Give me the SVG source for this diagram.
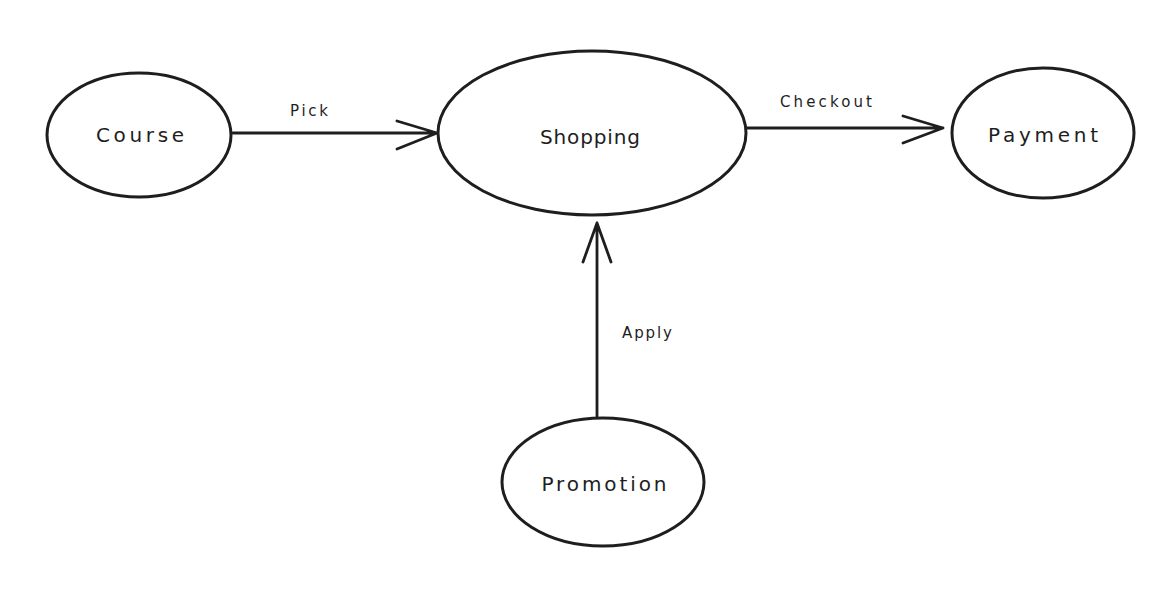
<svg xmlns="http://www.w3.org/2000/svg" width="1175" height="606" viewBox="0 0 1175 606">
<style>
.node{fill:#fff;stroke:#1e1e1e;stroke-width:3}
.lbl{font-family:"DejaVu Sans","Liberation Sans",sans-serif;font-size:20px;fill:#1e1e1e;text-anchor:middle;dominant-baseline:central}
.elbl{font-family:"DejaVu Sans","Liberation Sans",sans-serif;font-size:15px;fill:#1e1e1e;text-anchor:middle;dominant-baseline:central}
.edge{fill:none;stroke:#1e1e1e;stroke-width:2.8;stroke-linecap:round;stroke-linejoin:round}
</style>
<rect width="1175" height="606" fill="#fff"/>
<g id="connectors">
<g id="e-pick"><path class="edge" d="M233 133 L437 133 M397 121 L437 133 L397 149"/><text class="elbl" x="309" y="111" textLength="38">Pick</text></g>
<g id="e-checkout"><path class="edge" d="M747 128 L943 128 M903 116 L943 128 L903 143"/><text class="elbl" x="826" y="102" textLength="92">Checkout</text></g>
<g id="e-apply"><path class="edge" d="M597 417 L597 223 M583 262 L597 223 L611 262"/><text class="elbl" x="647" y="333" textLength="50">Apply</text></g>
</g>
<g id="course"><ellipse class="node" cx="139" cy="135" rx="92" ry="62"/><text class="lbl" x="140" y="135" textLength="88">Course</text></g>
<g id="shopping"><ellipse class="node" cx="592" cy="133" rx="154" ry="82"/><text class="lbl" x="590" y="137" textLength="100">Shopping</text></g>
<g id="payment"><ellipse class="node" cx="1043" cy="133" rx="91" ry="65"/><text class="lbl" x="1043" y="135" textLength="110">Payment</text></g>
<g id="promotion"><ellipse class="node" cx="603" cy="482" rx="101" ry="64"/><text class="lbl" x="604" y="484" textLength="125">Promotion</text></g>
</svg>
